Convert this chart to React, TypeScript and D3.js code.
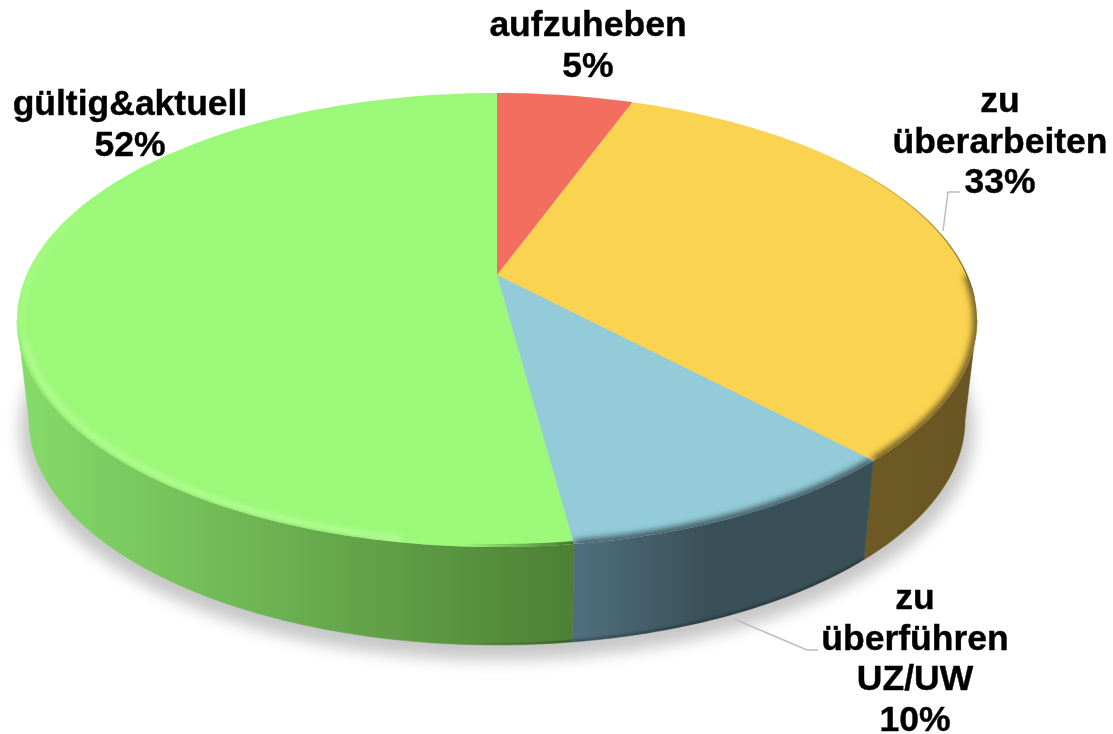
import React from "react";
import * as d3 from "d3";

const categories = ["aufzuheben", "zu überarbeiten", "zu überführen UZ/UW", "gültig&aktuell"];
const values = [5.55, 32.45, 9.9, 52.1];
const faceColors = ["#f46e5f", "#fad350", "#93cbd9", "#9cf878"];
const wallStops = [
  ["#7a372f", "#7a372f"],
  ["#6e5a24", "#695522"],
  ["#4f6f7f", "#3a5058"],
  ["#86dc6a", "#4d8035"],
];
const labelLines = [
  ["aufzuheben", "5%"],
  ["zu", "überarbeiten", "33%"],
  ["zu", "überführen", "UZ/UW", "10%"],
  ["gültig&aktuell", "52%"],
];
const labelPos = [
  { x: 588, y: 36 },
  { x: 1000, y: 112 },
  { x: 915, y: 609 },
  { x: 130, y: 115 },
];
const leaders = [
  [[943, 231], [948, 192], [960, 192]],
  [[734, 619], [807, 650], [818, 650]],
];

const W = 1113;
const H = 734;
const A = 0.198;
const TOP = { cx: 497, cy: 320, rx: 480, ry: 227 };
const BOT = { cx: 497, cy: 420, rx: 468, ry: 225 };
const THETA_R = Math.acos(-A);
const THETA_L = 2 * Math.PI - THETA_R;

type E = typeof TOP;
const project = (e: E, theta: number, r = 1): [number, number] => {
  const x = r * Math.sin(theta);
  const y = -r * Math.cos(theta);
  const d = 1 - A * y;
  return [e.cx + (e.rx * x * Math.sqrt(1 - A * A)) / d, e.cy + (e.ry * (y - A)) / d];
};
const samples = (a: number, b: number) => {
  const n = Math.max(2, Math.ceil(((b - a) * 180) / Math.PI));
  return d3.range(n + 1).map((i) => a + ((b - a) * i) / n);
};
const line = d3.line<[number, number]>();
const arcPts = (e: E, a: number, b: number, r = 1) => samples(a, b).map((t) => project(e, t, r));

export default function App() {
  const arcs = d3.pie<number>().sort(null).startAngle(0).endAngle(2 * Math.PI)(values);
  const apex = project(TOP, 0, 0);
  const faces = arcs.map((s) => line([apex, ...arcPts(TOP, s.startAngle, s.endAngle)]) + "Z");
  const walls = arcs.map((s) => {
    const a = Math.max(s.startAngle, THETA_R);
    const b = Math.min(s.endAngle, THETA_L);
    if (b <= a) return null;
    const pts = [...arcPts(TOP, a, b), ...arcPts(BOT, a, b).reverse()];
    return { d: line(pts) + "Z", x0: project(TOP, a)[0], x1: project(TOP, b)[0], a, b };
  });
  const greenArc = arcs[3];
  const yellow = arcs[1];
  const blue = arcs[2];
  const seam = project(TOP, greenArc.startAngle)[0];

  return (
    <svg
      width={W}
      height={H}
      viewBox={`0 0 ${W} ${H}`}
      style={{ position: "fixed", left: 0, top: 0, background: "#fff" }}
    >
      <defs>
        <filter id="shadow" x="-10%" y="-10%" width="120%" height="120%">
          <feGaussianBlur stdDeviation="8" />
        </filter>
        <filter id="b3" x="-10%" y="-10%" width="120%" height="120%">
          <feGaussianBlur stdDeviation="3" />
        </filter>
        <filter id="b2" x="-10%" y="-10%" width="120%" height="120%">
          <feGaussianBlur stdDeviation="2.5" />
        </filter>
        <filter id="b1" x="-10%" y="-10%" width="120%" height="120%">
          <feGaussianBlur stdDeviation="1" />
        </filter>
        <filter id="soft" x="-5%" y="-20%" width="110%" height="140%">
          <feGaussianBlur stdDeviation="0.45" />
        </filter>
        <linearGradient id="seamFade" gradientUnits="userSpaceOnUse" x1={seam - 110} x2={seam} y1={0} y2={0}>
          <stop offset={0} stopColor="#3c6a28" stopOpacity={0} />
          <stop offset={1} stopColor="#3c6a28" stopOpacity={0.9} />
        </linearGradient>
        <linearGradient id="footFade" gradientUnits="userSpaceOnUse" x1={seam - 110} x2={seam} y1={0} y2={0}>
          <stop offset={0} stopColor="#000" stopOpacity={0} />
          <stop offset={1} stopColor="#000" stopOpacity={0.25} />
        </linearGradient>
        <linearGradient id="upperFade" gradientUnits="userSpaceOnUse" x1={0} x2={0} y1={150} y2={280}>
          <stop offset={0} stopColor="#7a6a3c" stopOpacity={0} />
          <stop offset={1} stopColor="#7a6a3c" stopOpacity={1} />
        </linearGradient>
        {faces.map((d, i) => (
          <clipPath id={`face${i}`} key={i}>
            <path d={d} />
          </clipPath>
        ))}
        {walls.map((w, i) =>
          w ? (
            <React.Fragment key={i}>
              <clipPath id={`wall${i}`}>
                <path d={w.d} />
              </clipPath>
              <linearGradient
                id={`grad${i}`}
                gradientUnits="userSpaceOnUse"
                x1={Math.min(w.x0, w.x1)}
                x2={Math.max(w.x0, w.x1)}
                y1={0}
                y2={0}
              >
                <stop offset={0} stopColor={wallStops[i][0]} />
                <stop offset={i === 2 ? 0.45 : 1} stopColor={wallStops[i][1]} />
              </linearGradient>
            </React.Fragment>
          ) : null
        )}
      </defs>

      <ellipse cx={BOT.cx} cy={BOT.cy + 9} rx={BOT.rx + 9} ry={BOT.ry + 6} fill="#000" opacity={0.22} filter="url(#shadow)" />

      {walls.map((w, i) =>
        w ? <path key={i} d={w.d} fill={`url(#grad${i})`} stroke={`url(#grad${i})`} strokeWidth={0.5} /> : null
      )}
      {/* darker foot of the front walls */}
      <g clipPath="url(#wall2)">
        <path d={line(arcPts(BOT, blue.startAngle, blue.endAngle))!} fill="none" stroke="#000" strokeOpacity={0.25} strokeWidth={5} filter="url(#b1)" />
      </g>
      <g clipPath="url(#wall3)">
        <path d={line(arcPts(BOT, greenArc.startAngle, greenArc.startAngle + 0.4))!} fill="none" stroke="url(#footFade)" strokeWidth={5} />
      </g>

      {faces.map((d, i) => (
        <path key={i} d={d} fill={faceColors[i]} />
      ))}

      {/* rim bevel */}
      <g clipPath="url(#face3)">
        <path d={line(arcPts(TOP, greenArc.startAngle, greenArc.startAngle + 0.4))!} fill="none" stroke="url(#seamFade)" strokeWidth={6} />
        <path d={line(arcPts(TOP, greenArc.startAngle + 0.35, THETA_L - 0.05))!} fill="none" stroke="#8ee872" strokeWidth={3} filter="url(#b1)" />
        <path d={line(arcPts(TOP, greenArc.startAngle + 0.3, THETA_L - 0.1, 0.987))!} fill="none" stroke="#c2ffa4" strokeWidth={3.5} strokeOpacity={0.85} filter="url(#b2)" />
        <path d={line(arcPts(TOP, THETA_L - 0.1, THETA_L + 0.5, 0.99))!} fill="none" stroke="#aefc8e" strokeWidth={5} strokeOpacity={0.6} filter="url(#b2)" />
      </g>
      <g clipPath="url(#face1)">
        <path d={line(arcPts(TOP, THETA_R - 0.2, yellow.endAngle))!} fill="none" stroke="#6b5722" strokeWidth={8} filter="url(#b3)" />
        <path d={line(arcPts(TOP, THETA_R - 0.75, THETA_R - 0.1))!} fill="none" stroke="url(#upperFade)" strokeWidth={2.5} />
      </g>
      <g clipPath="url(#face2)">
        <path d={line(arcPts(TOP, blue.startAngle, blue.endAngle))!} fill="none" stroke="#3c535c" strokeWidth={8} filter="url(#b3)" />
      </g>

      {leaders.map((pts, i) => (
        <path key={i} d={line(pts as [number, number][])!} fill="none" stroke="#bdbdbd" strokeWidth={1.5} />
      ))}

      {labelLines.map((lines, i) => (
        <text
          key={categories[i]}
          textAnchor="middle"
          fontFamily="'Liberation Sans', Arial, sans-serif"
          fontWeight={700}
          fontSize={35.5}
          fill="#000"
          stroke="#000"
          strokeWidth={0.4}
          filter="url(#soft)"
        >
          {lines.map((l, j) => (
            <tspan key={j} x={labelPos[i].x} y={labelPos[i].y + j * 40.6}>
              {l}
            </tspan>
          ))}
        </text>
      ))}
    </svg>
  );
}
